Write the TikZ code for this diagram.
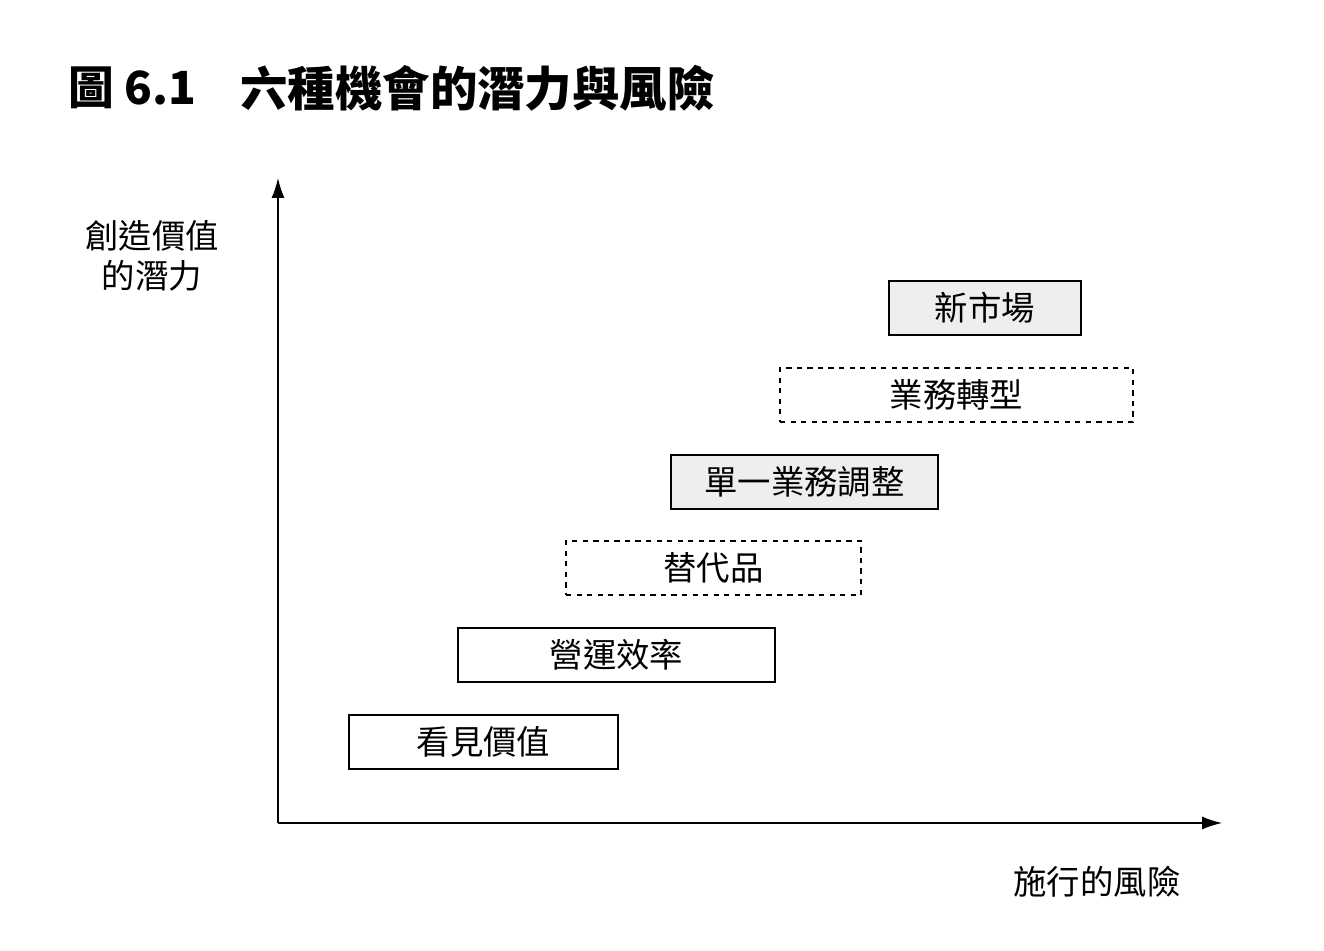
\documentclass[tikz,border=0pt]{standalone}
\usepackage{fontspec}
\setmainfont{Noto Sans CJK TC}
\usetikzlibrary{positioning,arrows.meta}
\definecolor{boxgray}{HTML}{EEEEEE}

\begin{document}
\begin{tikzpicture}[x=0.02cm,y=-0.02cm,
	every node/.style={inner sep=0pt,font=\fontsize{19}{22}\selectfont},
	opp/.style={draw,thick,minimum height=1.08cm},
	shaded/.style={fill=boxgray},
	axis/.style={thick,-{Latex[length=4mm,width=2.6mm]}}]

\useasboundingbox (0,0) rectangle (1324,950);

% title
\node[anchor=west,font=\fontsize{26}{30}\selectfont\bfseries](fig) at (68,88) {圖 6.1};
\node[anchor=west,font=\fontsize{27}{30}\selectfont\bfseries](title) at (240,88) {六種機會的潛力與風險};

% axes
\coordinate(o) at (278,823);
\coordinate(ytop) at (278,178);
\coordinate(xend) at (1222,823);
\draw[axis](o)--(ytop);
\draw[axis](o)--(xend);

\node[align=center,font=\fontsize{19}{23}\selectfont](ylab) at (152,256) {創造價值\\的潛力};
\node(xlab) at (1097,882) {施行的風險};

% opportunities
\foreach \n/\xa/\xb/\y/\s/\t in {b1/889/1081/308/shaded/新市場,
	b2/780/1133/395/dashed/業務轉型,
	b3/671/938/482/shaded/單一業務調整,
	b4/566/861/568/dashed/替代品,
	b5/458/775/655/solid/營運效率,
	b6/349/618/742/solid/看見價值}{
	\node[opp,\s,minimum width={(\xb-\xa)*0.02cm}](\n) at ({(\xa+\xb)/2},\y) {\t};
}
\end{tikzpicture}
\end{document}
